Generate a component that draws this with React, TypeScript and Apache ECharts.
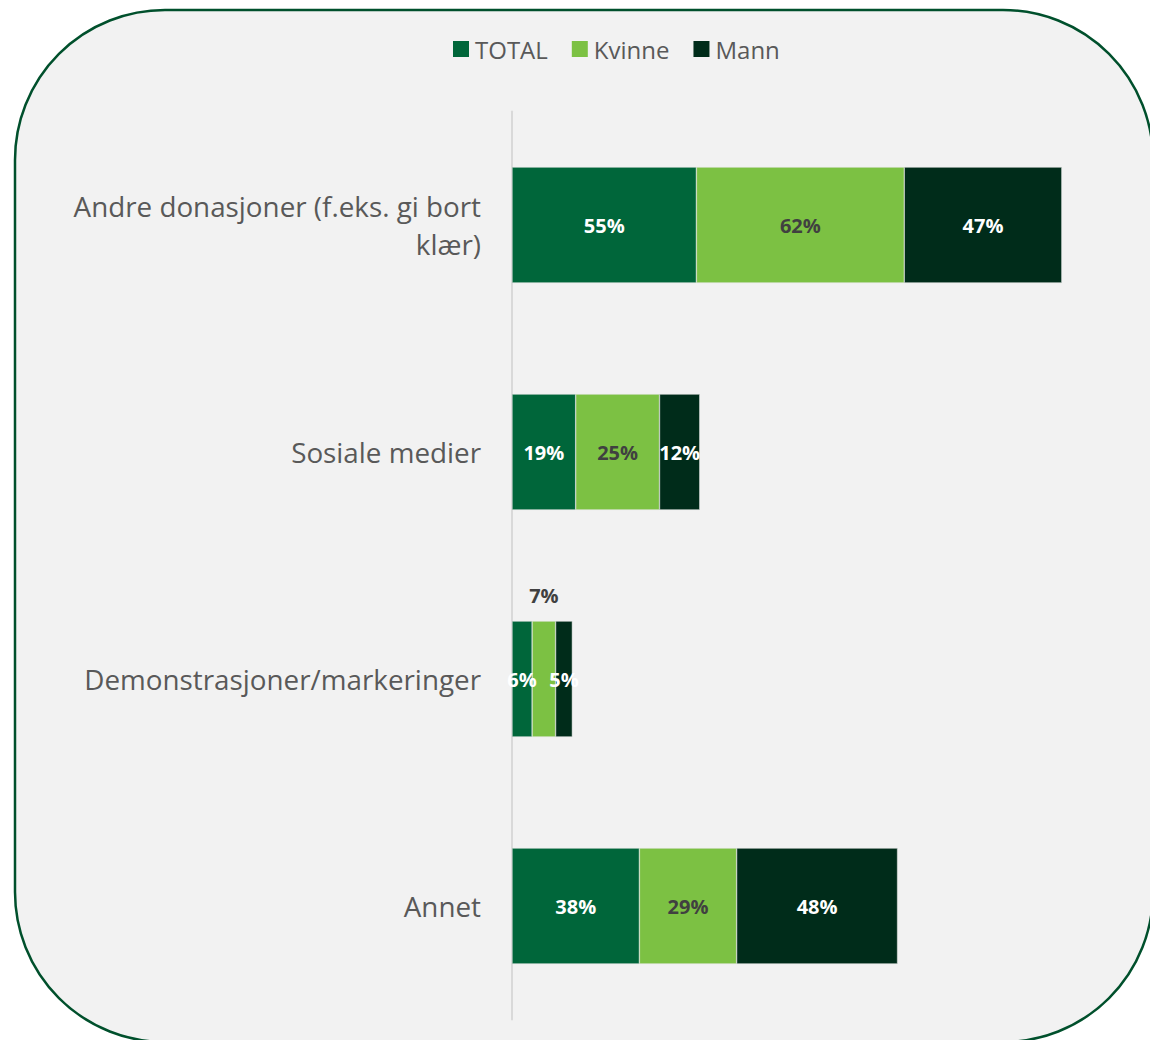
import React, { useEffect, useRef } from "react";
import * as echarts from "echarts";

const categories = [
  "Andre donasjoner (f.eks. gi bort\nklær)",
  "Sosiale medier",
  "Demonstrasjoner/markeringer",
  "Annet",
];
const seriesNames = ["TOTAL", "Kvinne", "Mann"];
const totalValues = [55, 19, 6, 38];
const kvinneValues = [62, 25, 7, 29];
const mannValues = [47, 12, 5, 48];
const colors = ["#00663a", "#7cc143", "#002c1a"];
const labelColors = ["#ffffff", "#404040", "#ffffff"];

export default function App() {
  const ref = useRef<HTMLDivElement>(null);
  useEffect(() => {
    if (!ref.current) return;
    const chart = echarts.init(ref.current, null, { renderer: "svg" });
    const allValues = [totalValues, kvinneValues, mannValues];
    const series = seriesNames.map((name, si) => ({
      name,
      type: "bar",
      stack: "all",
      barWidth: "51%",
      itemStyle: { color: colors[si], borderColor: "#e6e6e6", borderWidth: 0.5 },
      label: {
        show: true,
        position: "inside",
        formatter: "{c}%",
        color: labelColors[si],
        fontFamily: "Open Sans",
        fontWeight: "bold",
        fontSize: 20,
      },
      data: allValues[si].map((v) =>
        v < 10 && si === 1
          ? { value: v, label: { position: "top", distance: 16 } }
          : v
      ),
    }));
    chart.setOption({
      animation: false,
      backgroundColor: "#ffffff",
      graphic: [
        {
          type: "rect",
          z: -10,
          silent: true,
          shape: { x: 15, y: 10, width: 1138, height: 1032, r: 150 },
          style: { fill: "#f2f2f2", stroke: "#00502c", lineWidth: 2.5 },
        },
      ],
      legend: {
        top: 32,
        left: 448,
        itemWidth: 16,
        itemHeight: 16,
        itemGap: 24,
        icon: "rect",
        itemStyle: { borderWidth: 0 },
        textStyle: { color: "#595959", fontSize: 24, fontFamily: "Open Sans", padding: [0, 0, 0, 1] },
        data: seriesNames,
      },
      grid: { left: 512, top: 111.5, width: 637, height: 908 },
      xAxis: { type: "value", min: 0, max: 190, show: false },
      yAxis: {
        type: "category",
        inverse: true,
        data: categories,
        axisLine: { show: true, lineStyle: { color: "#d9d9d9", width: 2 } },
        axisTick: { show: false },
        axisLabel: {
          color: "#595959",
          fontSize: 27.8,
          fontFamily: "Open Sans",
          margin: 31,
          lineHeight: 38,
          align: "right",
        },
      },
      series,
    });
    return () => chart.dispose();
  }, []);
  return (
    <div
      ref={ref}
      style={{ position: "fixed", left: 0, top: 0, width: 1150, height: 1040 }}
    />
  );
}
